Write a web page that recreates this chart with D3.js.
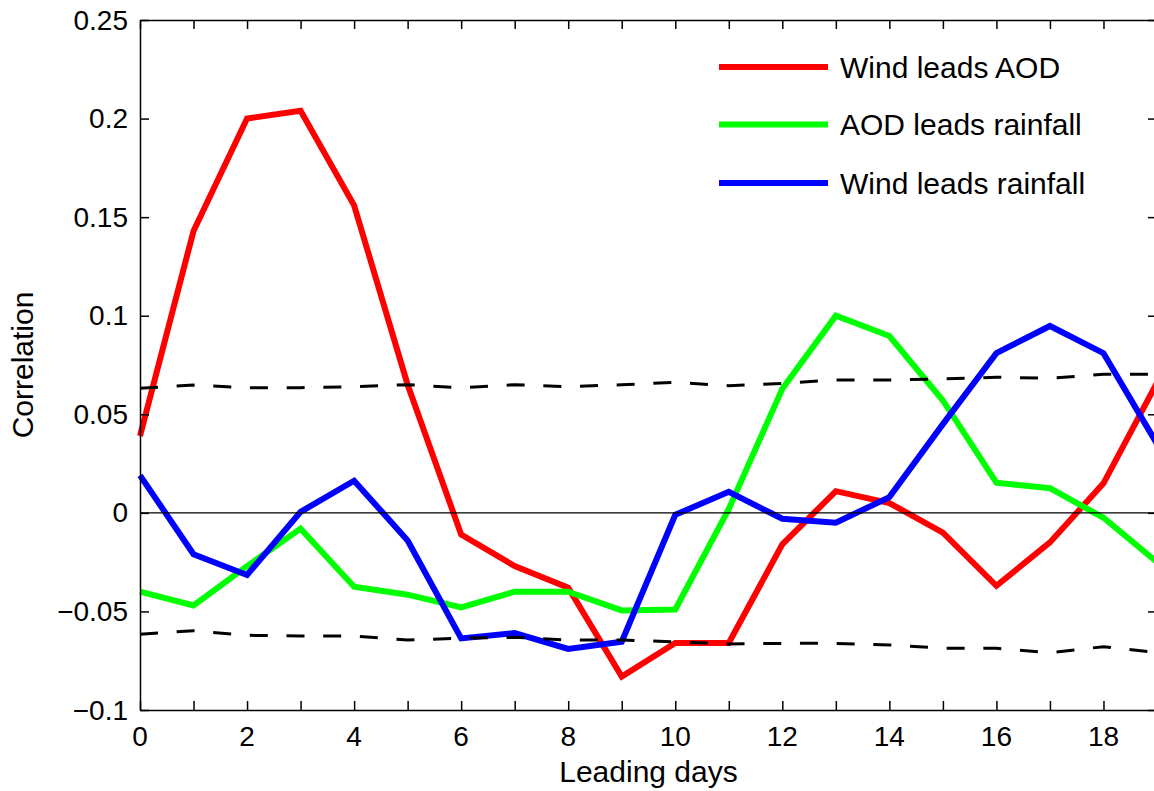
<!DOCTYPE html>
<html>
<head>
<meta charset="utf-8">
<script src="https://cdn.jsdelivr.net/npm/d3@7"></script>
<style>
  body { margin: 0; background: #fff; }
  svg { display: block; font-family: "Liberation Sans", Arial, Helvetica, sans-serif; }
</style>
</head>
<body>
<div id="chart"></div>
<script>
// leading days 0..19
const days = [0, 1, 2, 3, 4, 5, 6, 7, 8, 9, 10, 11, 12, 13, 14, 15, 16, 17, 18, 19];

// correlation series
const windAod = [0.039, 0.143, 0.200, 0.204, 0.156, 0.065, -0.011, -0.027, -0.038, -0.083,
                 -0.066, -0.066, -0.016, 0.011, 0.005, -0.010, -0.037, -0.015, 0.015, 0.066];
const aodRain = [-0.040, -0.047, -0.027, -0.008, -0.0375, -0.0415, -0.048, -0.040, -0.040, -0.0495,
                 -0.049, 0.002, 0.063, 0.100, 0.0897, 0.057, 0.0153, 0.0125, -0.0025, -0.025];
const windRain = [0.019, -0.021, -0.0315, 0.0005, 0.0163, -0.014, -0.0637, -0.061, -0.069, -0.0654,
                  -0.001, 0.0107, -0.003, -0.005, 0.008, 0.045, 0.081, 0.0948, 0.081, 0.035];

// significance bounds (dashed)
const upperSig = [0.0632, 0.0648, 0.0635, 0.0635, 0.064, 0.065, 0.0635, 0.065, 0.064, 0.065,
                  0.0662, 0.0645, 0.0657, 0.0674, 0.0674, 0.0679, 0.0688, 0.0683, 0.0703, 0.0703];
const lowerSig = [-0.0616, -0.0598, -0.0621, -0.0625, -0.0625, -0.0645, -0.0636, -0.0631, -0.0645, -0.0645,
                  -0.0654, -0.0665, -0.0662, -0.0662, -0.067, -0.0687, -0.0687, -0.0709, -0.0679, -0.0709];

const seriesNames = ["Wind leads AOD", "AOD leads rainfall", "Wind leads rainfall"];
const seriesColors = ["#ff0000", "#00ff00", "#0000ff"];

const xTicks = d3.range(0, 20, 1);
const xLabels = [0, 2, 4, 6, 8, 10, 12, 14, 16, 18];
const yTicks = [-0.1, -0.05, 0, 0.05, 0.1, 0.15, 0.2, 0.25];

const W = 1154, H = 791;
const mLeft = 140, mRight = 1157, mTop = 20, mBottom = 710;

const svg = d3.select("#chart").append("svg")
    .attr("width", W)
    .attr("height", H);

const x = d3.scaleLinear().domain([0, 19]).range([mLeft, mRight]);
const y = d3.scaleLinear().domain([-0.1, 0.25]).range([mBottom, mTop]);

const line = d3.line()
    .x((d, i) => x(days[i]))
    .y(d => y(d));

// main series
[windAod, aodRain, windRain].forEach((s, k) => {
  svg.append("path")
      .datum(s)
      .attr("d", line)
      .attr("fill", "none")
      .attr("stroke", seriesColors[k])
      .attr("stroke-width", 6);
});

// dashed significance lines
[upperSig, lowerSig].forEach(s => {
  svg.append("path")
      .datum(s)
      .attr("d", line)
      .attr("fill", "none")
      .attr("stroke", "#000")
      .attr("stroke-width", 3)
      .attr("stroke-dasharray", "18,18.7");
});

// zero line
svg.append("line")
    .attr("x1", x(0)).attr("x2", x(19))
    .attr("y1", y(0)).attr("y2", y(0))
    .attr("stroke", "#000")
    .attr("stroke-width", 1.3);

// axes box with inward ticks
const tickLen = 9;
svg.append("g")
    .attr("transform", `translate(0,${mBottom})`)
    .call(d3.axisBottom(x).tickValues(xTicks).tickSizeInner(-tickLen).tickSizeOuter(0).tickFormat(""));
svg.append("g")
    .attr("transform", `translate(0,${mTop})`)
    .call(d3.axisTop(x).tickValues(xTicks).tickSizeInner(-tickLen).tickSizeOuter(0).tickFormat(""));
svg.append("g")
    .attr("transform", `translate(${mLeft},0)`)
    .call(d3.axisLeft(y).tickValues(yTicks).tickSizeInner(-tickLen).tickSizeOuter(0).tickFormat(""));
svg.append("g")
    .attr("transform", `translate(${mRight},0)`)
    .call(d3.axisRight(y).tickValues(yTicks).tickSizeInner(-tickLen).tickSizeOuter(0).tickFormat(""));

svg.selectAll(".domain").attr("stroke", "#000").attr("stroke-width", 1.5);
svg.selectAll(".tick line").attr("stroke", "#000").attr("stroke-width", 1.5);

// tick labels
const fmtY = d => String(+d.toFixed(2)).replace("-", "\u2212");
svg.append("g").selectAll("text")
  .data(yTicks)
  .join("text")
    .attr("x", mLeft - 12)
    .attr("y", d => y(d))
    .attr("text-anchor", "end")
    .attr("dominant-baseline", "central")
    .attr("font-size", 28)
    .text(fmtY);

svg.append("g").selectAll("text")
  .data(xLabels)
  .join("text")
    .attr("x", d => x(d))
    .attr("y", 746)
    .attr("text-anchor", "middle")
    .attr("font-size", 28)
    .text(d => d);

// axis titles
svg.append("text")
    .attr("x", (mLeft + mRight) / 2)
    .attr("y", 782)
    .attr("text-anchor", "middle")
    .attr("font-size", 30)
    .text("Leading days");

svg.append("text")
    .attr("transform", `translate(33,${(mTop + mBottom) / 2}) rotate(-90)`)
    .attr("text-anchor", "middle")
    .attr("font-size", 30)
    .text("Correlation");

// legend
const legendY = [67, 124.5, 183];
const legend = svg.append("g");
seriesNames.forEach((name, k) => {
  legend.append("line")
      .attr("x1", 719).attr("x2", 828)
      .attr("y1", legendY[k]).attr("y2", legendY[k])
      .attr("stroke", seriesColors[k])
      .attr("stroke-width", 6);
  legend.append("text")
      .attr("x", 840)
      .attr("y", legendY[k])
      .attr("dominant-baseline", "central")
      .attr("font-size", 30)
      .text(name);
});
</script>
</body>
</html>
